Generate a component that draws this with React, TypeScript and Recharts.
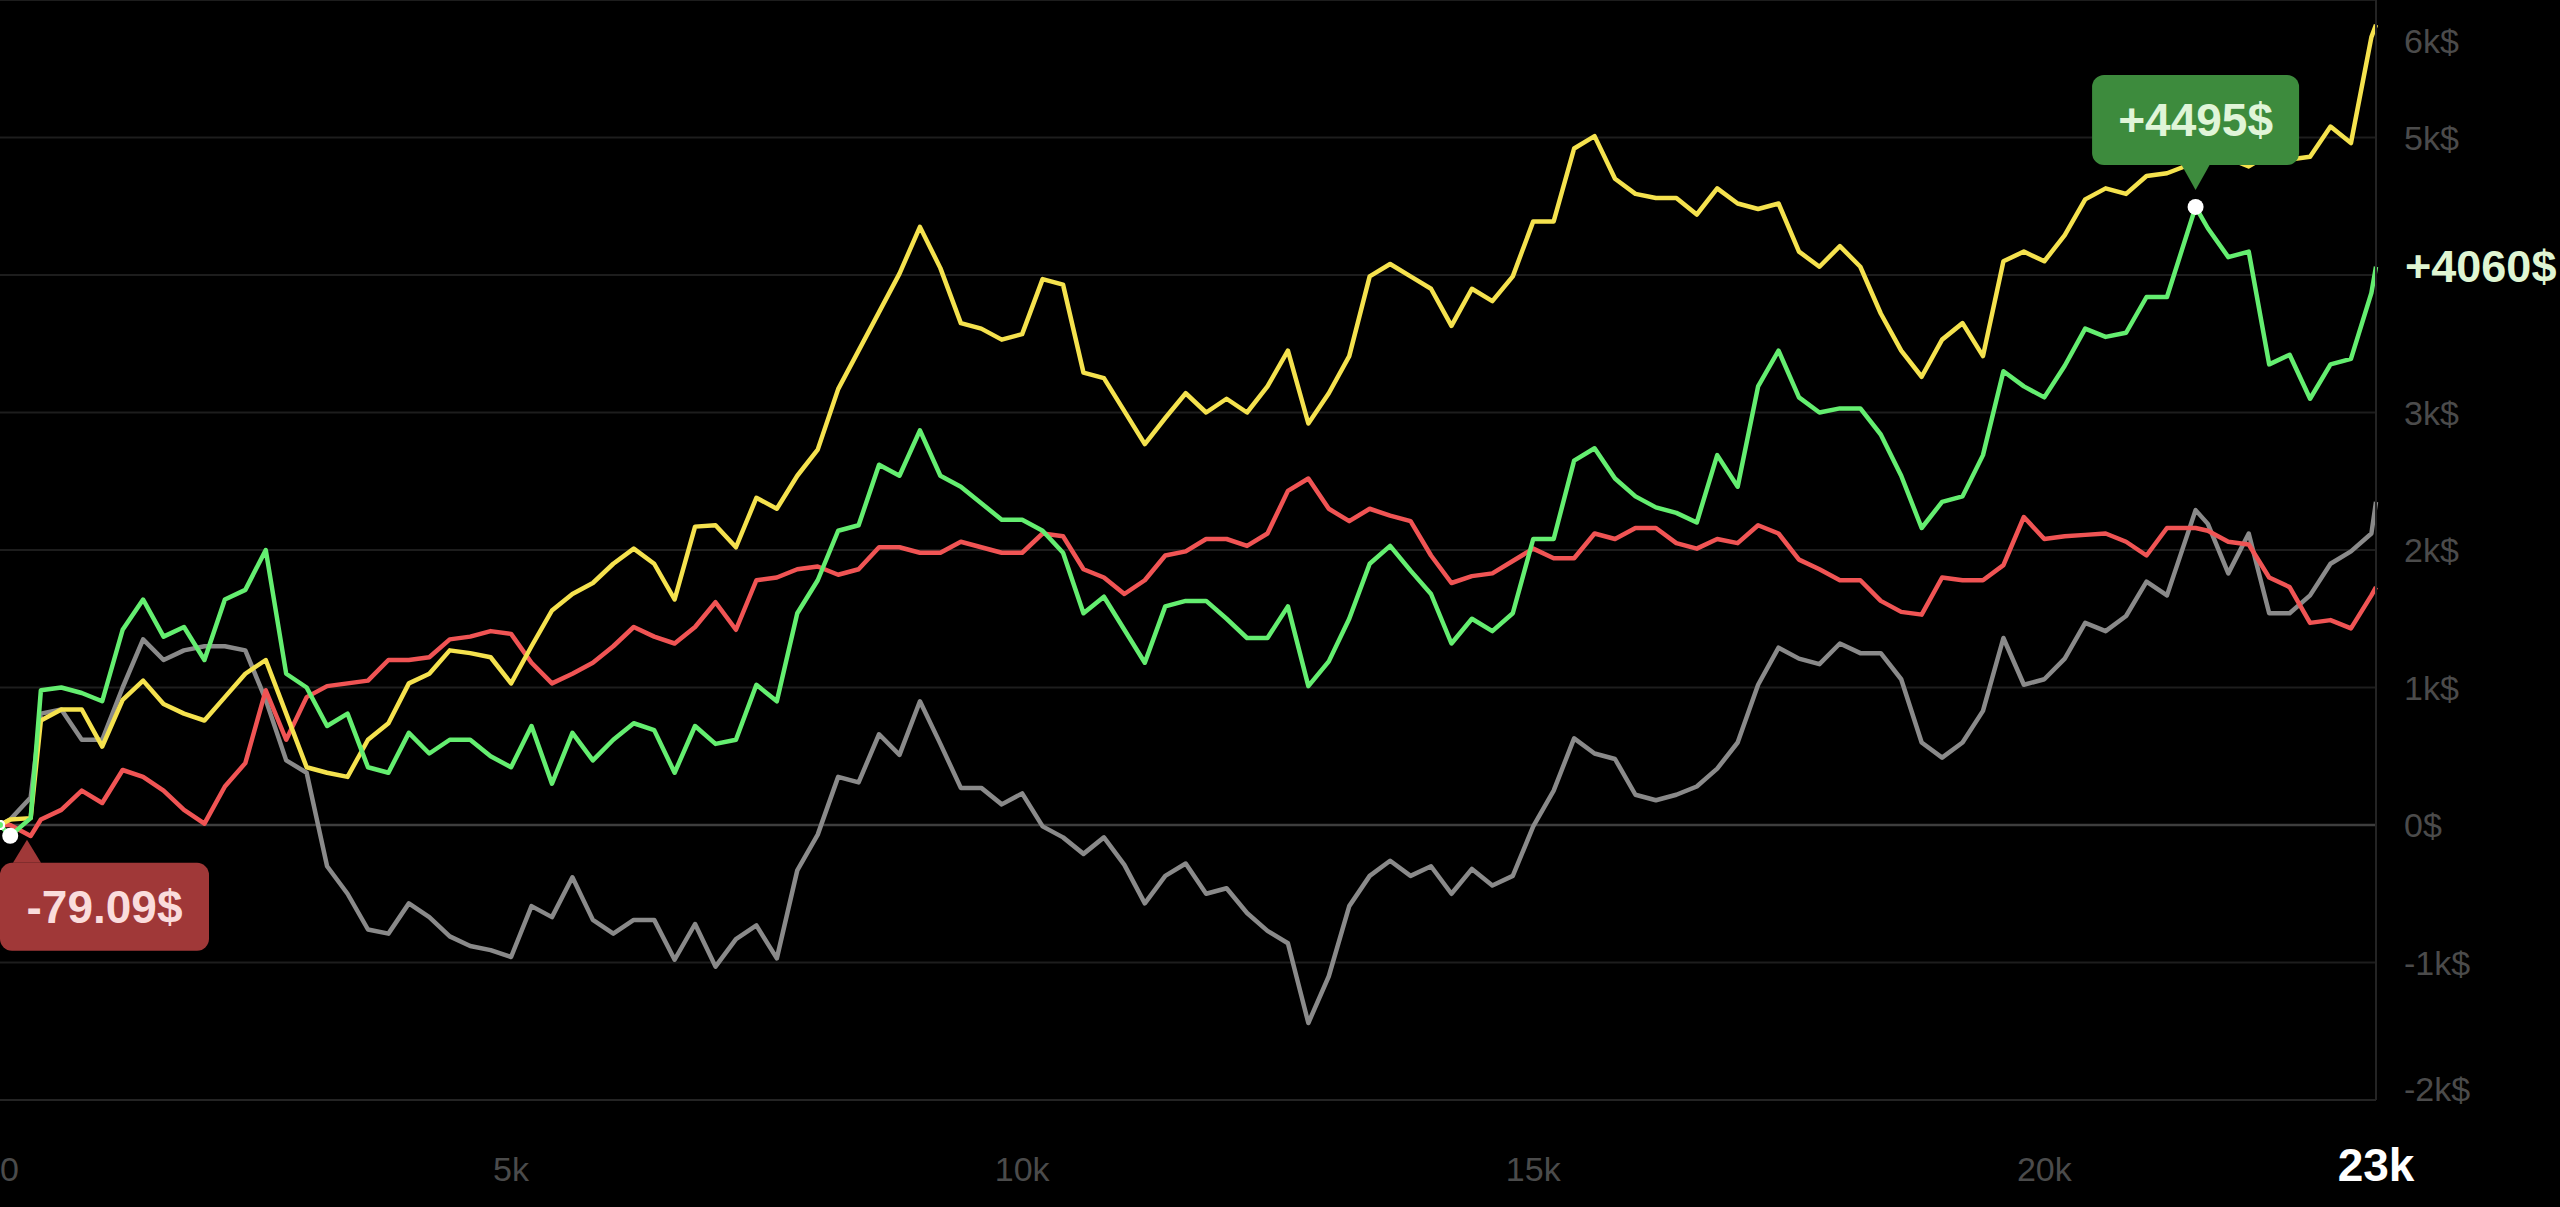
import { CartesianGrid, Line, LineChart, ReferenceDot, ReferenceLine, XAxis, YAxis } from "recharts";

// trade number (x) and cumulative profit in $ for each run
const TRADES = [
  0, 100, 300, 400, 600, 800, 1000, 1200, 1400, 1600, 1800, 2000, 2200, 2400, 2600, 2800, 3000, 3200, 3400, 3600,
  3800, 4000, 4200, 4400, 4600, 4800, 5000, 5200, 5400, 5600, 5800, 6000, 6200, 6400, 6600, 6800, 7000, 7200, 7400,
  7600, 7800, 8000, 8200, 8400, 8600, 8800, 9000, 9200, 9400, 9600, 9800, 10000, 10200, 10400, 10600, 10800, 11000,
  11200, 11400, 11600, 11800, 12000, 12200, 12400, 12600, 12800, 13000, 13200, 13400, 13600, 13800, 14000, 14200,
  14400, 14600, 14800, 15000, 15200, 15400, 15600, 15800, 16000, 16200, 16400, 16600, 16800, 17000, 17200, 17400,
  17600, 17800, 18000, 18200, 18400, 18600, 18800, 19000, 19200, 19400, 19600, 19800, 20000, 20200, 20400, 20600,
  20800, 21000, 21200, 21480, 21600, 21800, 22000, 22200, 22400, 22600, 22800, 23000, 23200, 23245,
];

const GREEN = [
  0, -79.09, 50, 980, 1000, 960, 900, 1420, 1640, 1370, 1440, 1200, 1640, 1710, 2000, 1100, 1000, 720, 810, 420,
  380, 670, 520, 620, 620, 500, 420, 720, 300, 670, 470, 620, 740, 690, 380, 720, 590, 620, 1020,
  900, 1540, 1780, 2140, 2180, 2620, 2540, 2870, 2540, 2460, 2340, 2220, 2220, 2140, 1980, 1540, 1660, 1420,
  1180, 1590, 1630, 1630, 1500, 1360, 1360, 1590, 1010, 1190, 1500, 1900, 2030, 1850, 1680, 1320,
  1500, 1410, 1540, 2080, 2080, 2650, 2740, 2520, 2390, 2310, 2270, 2200, 2690, 2460, 3190, 3450,
  3110, 3000, 3030, 3030, 2840, 2540, 2160, 2350, 2390, 2690, 3300, 3190, 3110, 3340, 3610, 3550,
  3580, 3840, 3840, 4495, 4340, 4130, 4170, 3350, 3420, 3100, 3350, 3390, 3870, 4060,
];

const YELLOW = [
  0, 40, 50, 760, 840, 840, 570, 910, 1050, 880, 810, 760, 930, 1100, 1200, 810, 420, 380, 350, 620,
  740, 1030, 1100, 1270, 1250, 1220, 1030, 1300, 1560, 1680, 1760, 1900, 2010, 1900, 1640, 2170, 2180, 2020, 2380,
  2300, 2540, 2730, 3170, 3450, 3730, 4010, 4350, 4050, 3650, 3610, 3530, 3570, 3970, 3930, 3290, 3250, 3010,
  2770, 2960, 3140, 3000, 3100, 3000, 3190, 3450, 2920, 3140, 3410, 3990, 4080, 3990, 3900, 3630,
  3900, 3810, 3990, 4390, 4390, 4920, 5010, 4700, 4590, 4560, 4560, 4440, 4630, 4520, 4480, 4520,
  4170, 4060, 4210, 4060, 3720, 3450, 3260, 3530, 3650, 3410, 4100, 4170, 4100, 4290, 4550, 4630,
  4590, 4720, 4740, 4820, 4820, 4850, 4790, 4880, 4840, 4860, 5080, 4960, 5730, 5820,
];

const RED = [
  0, 0, -80, 40, 110, 250, 160, 400, 350, 250, 110, 10, 280, 450, 980, 620, 930, 1010, 1030, 1050,
  1200, 1200, 1220, 1350, 1370, 1410, 1390, 1180, 1030, 1100, 1180, 1300, 1440, 1370, 1320, 1440, 1620, 1420, 1780,
  1800, 1860, 1880, 1820, 1860, 2020, 2020, 1980, 1980, 2060, 2020, 1980, 1980, 2120, 2100, 1860, 1800, 1680,
  1780, 1960, 1990, 2080, 2080, 2030, 2120, 2430, 2520, 2300, 2210, 2300, 2250, 2210, 1960, 1760,
  1810, 1830, 1920, 2010, 1940, 1940, 2120, 2080, 2160, 2160, 2050, 2010, 2080, 2050, 2180, 2120,
  1930, 1860, 1780, 1780, 1630, 1550, 1530, 1800, 1780, 1780, 1890, 2240, 2080, 2100, 2110, 2120,
  2060, 1960, 2160, 2160, 2140, 2060, 2040, 1800, 1730, 1470, 1490, 1430, 1670, 1730,
];

const GRAY = [
  0, 40, 200, 810, 840, 620, 620, 1000, 1350, 1200, 1270, 1300, 1300, 1270, 910, 470, 380, -300, -500, -760,
  -790, -570, -670, -810, -880, -910, -960, -590, -670, -380, -690, -790, -690, -690, -980, -720, -1030, -830, -730,
  -970, -330, -70, 350, 310, 660, 510, 900, 590, 270, 270, 150, 230, -10, -90, -210, -90, -290,
  -570, -370, -280, -500, -460, -640, -770, -860, -1440, -1100, -590, -370, -260, -370, -300, -500,
  -320, -440, -370, -10, 250, 630, 520, 480, 220, 180, 220, 280, 410, 600, 1020, 1290,
  1210, 1170, 1320, 1250, 1250, 1060, 600, 490, 600, 830, 1360, 1020, 1060, 1210, 1470, 1410,
  1520, 1770, 1670, 2290, 2190, 1830, 2120, 1540, 1540, 1670, 1900, 1990, 2120, 2350,
];

const Y_TICKS = [-2000, -1000, 0, 1000, 2000, 3000, 4000, 5000, 6000];
const X_TICKS = [0, 5000, 10000, 15000, 20000, 23245];

const MAX_POINT = { trade: 21480, value: 4495 };
const MIN_POINT = { trade: 100, value: -79.09 };
const LAST_POINT = { trade: 23245, value: 4060 };

const WIDTH = 2560;
const HEIGHT = 1207;
const PLOT_RIGHT = 2376;
const PLOT_BOTTOM = 1100;
const FONT = "'Liberation Sans', Arial, Helvetica, sans-serif";
const LINE_W = 4.5;

const data = TRADES.map((trade, i) => ({
  trade,
  green: GREEN[i],
  yellow: YELLOW[i],
  red: RED[i],
  gray: GRAY[i],
}));

function YTick(props: any) {
  const value = props.payload.value as number;
  // the last-value label takes the place of a tick label that would collide with it
  if (Math.abs(value - LAST_POINT.value) < 350) return <g />;
  const label = value === 0 ? "0$" : `${value / 1000}k$`;
  const y = Math.min(Math.max(props.y, 41), PLOT_BOTTOM - 11);
  return (
    <text x={PLOT_RIGHT + 28} y={y} fill="#4b4b4b" fontSize={34} fontFamily={FONT} dominantBaseline="central">
      {label}
    </text>
  );
}

function XTick(props: any) {
  const value = props.payload.value as number;
  const last = value === X_TICKS[X_TICKS.length - 1];
  const first = value === 0;
  const label = first ? "0" : last ? `${Math.floor(value / 1000)}k` : `${value / 1000}k`;
  return (
    <text
      x={props.x}
      y={PLOT_BOTTOM + 81}
      fill={last ? "#ffffff" : "#4b4b4b"}
      fontSize={last ? 46 : 34}
      fontWeight={last ? 700 : 400}
      fontFamily={FONT}
      textAnchor={first ? "start" : "middle"}
    >
      {label}
    </text>
  );
}

function GainCallout(props: any) {
  const { cx, cy } = props;
  const w = 207;
  const h = 90;
  const bx = cx - w / 2;
  const by = cy - 132;
  return (
    <g>
      <rect x={bx} y={by} width={w} height={h} rx={12} fill="#3d8b3d" />
      <path d={`M${cx - 14},${by + h} L${cx + 14},${by + h} L${cx},${cy - 17} Z`} fill="#3d8b3d" />
      <text
        x={cx}
        y={by + h / 2}
        fill="#e0f5d8"
        fontSize={46}
        fontWeight={700}
        fontFamily={FONT}
        textAnchor="middle"
        dominantBaseline="central"
      >
        {`+${MAX_POINT.value}$`}
      </text>
      <circle cx={cx} cy={cy} r={8} fill="#ffffff" />
    </g>
  );
}

function LossCallout(props: any) {
  const { cx, cy } = props;
  const w = 209;
  const h = 88;
  const bx = Math.max(0, cx - w / 2);
  const by = cy + 27;
  return (
    <g>
      <rect x={bx} y={by} width={w} height={h} rx={12} fill="#a03838" />
      <path d={`M${bx + 13},${by} L${bx + 41},${by} L${bx + 27},${cy + 4} Z`} fill="#a03838" />
      <text
        x={bx + w / 2}
        y={by + h / 2}
        fill="#fadcdc"
        fontSize={46}
        fontWeight={700}
        fontFamily={FONT}
        textAnchor="middle"
        dominantBaseline="central"
      >
        {`${MIN_POINT.value}$`}
      </text>
      <circle cx={cx} cy={cy} r={8} fill="#ffffff" />
    </g>
  );
}

function LastLabel(props: any) {
  const { cy } = props;
  return (
    <text
      x={PLOT_RIGHT + 29}
      y={cy}
      fill="#dff5d2"
      fontSize={45}
      fontWeight={700}
      fontFamily={FONT}
      dominantBaseline="central"
    >
      {`+${LAST_POINT.value}$`}
    </text>
  );
}

export default function App() {
  return (
    <div style={{ position: "absolute", left: 0, top: 0, width: WIDTH, height: HEIGHT, background: "#000" }}>
      <LineChart width={WIDTH} height={HEIGHT} data={data} margin={{ top: 0, right: 0, bottom: 0, left: 0 }}>
        <CartesianGrid vertical={false} stroke="#1d1d1d" strokeWidth={2} />
        <XAxis
          dataKey="trade"
          type="number"
          domain={[0, 23245]}
          ticks={X_TICKS}
          interval={0}
          height={HEIGHT - PLOT_BOTTOM}
          tick={<XTick />}
          tickLine={false}
          axisLine={{ stroke: "#242424", strokeWidth: 2 }}
        />
        <YAxis
          orientation="right"
          type="number"
          domain={[-2000, 6000]}
          ticks={Y_TICKS}
          interval={0}
          width={WIDTH - PLOT_RIGHT}
          tick={<YTick />}
          tickLine={false}
          axisLine={{ stroke: "#242424", strokeWidth: 2 }}
        />
        <ReferenceLine y={0} stroke="#3e3e3e" strokeWidth={2.5} />
        <Line dataKey="gray" stroke="#8a8a8a" strokeWidth={LINE_W} dot={false} isAnimationActive={false} strokeLinejoin="round" />
        <Line dataKey="red" stroke="#f05454" strokeWidth={LINE_W} dot={false} isAnimationActive={false} strokeLinejoin="round" />
        <Line dataKey="yellow" stroke="#f5e24e" strokeWidth={LINE_W} dot={false} isAnimationActive={false} strokeLinejoin="round" />
        <Line dataKey="green" stroke="#64ee70" strokeWidth={LINE_W} dot={false} isAnimationActive={false} strokeLinejoin="round" />
        <ReferenceDot x={MAX_POINT.trade} y={MAX_POINT.value} r={8} shape={(p: any) => <GainCallout {...p} />} />
        <ReferenceDot x={MIN_POINT.trade} y={MIN_POINT.value} r={8} shape={(p: any) => <LossCallout {...p} />} />
        <ReferenceDot x={LAST_POINT.trade} y={LAST_POINT.value} r={0} shape={(p: any) => <LastLabel {...p} />} />
      </LineChart>
    </div>
  );
}
